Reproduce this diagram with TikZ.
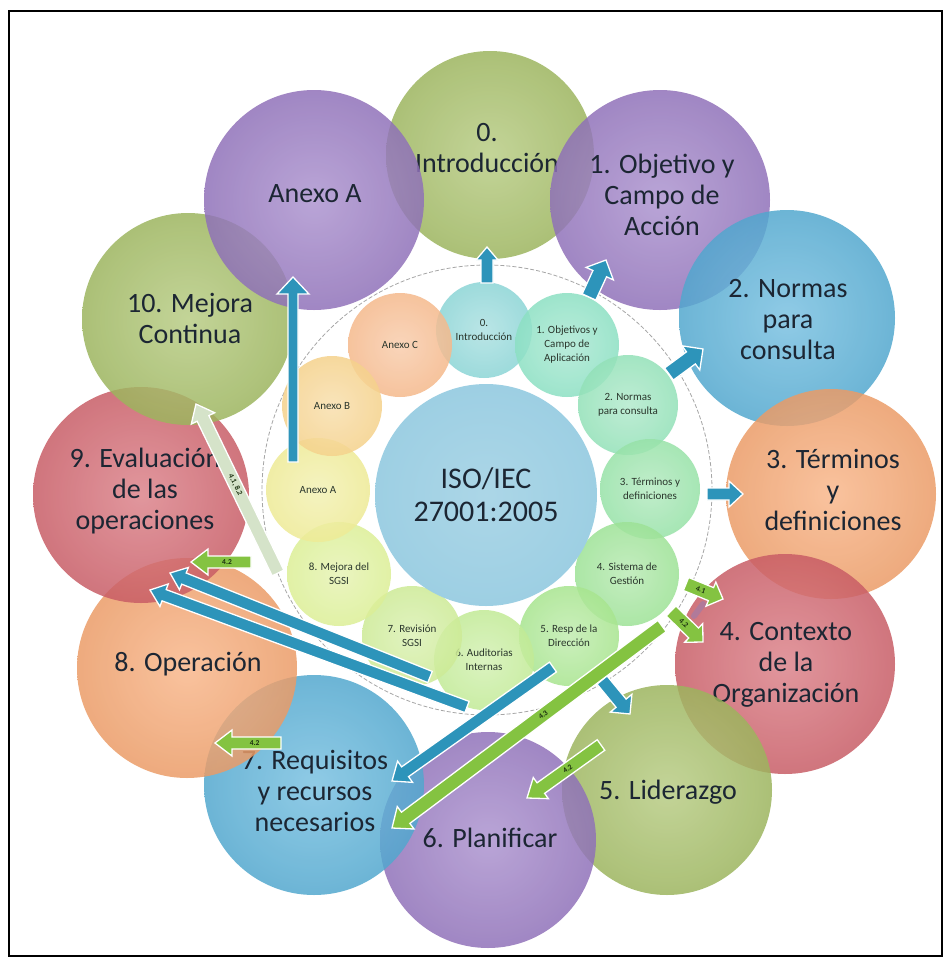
\documentclass[tikz,border=0pt]{standalone}
\usepackage{fontspec}
\setmainfont{Carlito}
\usetikzlibrary{calc}

% palette
\definecolor{olivec}{HTML}{A4BE62}
\definecolor{purplec}{HTML}{9676C2}
\definecolor{bluec}{HTML}{55B0D9}
\definecolor{orangec}{HTML}{F7A36B}
\definecolor{redc}{HTML}{D2606A}
\definecolor{corec}{HTML}{9DCFE3}
\definecolor{in0}{HTML}{8CD5D6}
\definecolor{in1}{HTML}{8CE0C3}
\definecolor{in2}{HTML}{93E1B8}
\definecolor{in3}{HTML}{97E2A8}
\definecolor{in4}{HTML}{9DE296}
\definecolor{in5}{HTML}{A8E58F}
\definecolor{in6}{HTML}{C2EB96}
\definecolor{in7}{HTML}{CDEB96}
\definecolor{in8}{HTML}{DCEF96}
\definecolor{inA}{HTML}{EEEB96}
\definecolor{inB}{HTML}{F5D28C}
\definecolor{inC}{HTML}{F5B98C}
\definecolor{ink}{HTML}{1C2633}
\definecolor{ink2}{HTML}{2A362C}
\definecolor{arrblue}{HTML}{2D94BA}
\definecolor{arrgreen}{HTML}{84C341}
\definecolor{arrpale}{HTML}{D5E3C9}
\definecolor{tagc}{HTML}{1B3010}
\definecolor{mauve}{HTML}{B07A9A}

% block arrow: [style]{from}{to}{half shaft}{half head}{head length}
\newcommand{\barrow}[6][]{%
  \path[#1] let \p1=($(#3)-(#2)$), \n1={atan2(\y1,\x1)}, \n2={veclen(\x1,\y1)-#6} in
    ($(#2)+({\n1+90}:#4pt)$) -- ($(#2)+(\n1:\n2)+({\n1+90}:#4pt)$)
    -- ($(#2)+(\n1:\n2)+({\n1+90}:#5pt)$) -- (#3)
    -- ($(#2)+(\n1:\n2)+({\n1-90}:#5pt)$) -- ($(#2)+(\n1:\n2)+({\n1-90}:#4pt)$)
    -- ($(#2)+({\n1-90}:#4pt)$) -- cycle;}

\tikzset{
  ring/.style 2 args={circle, inner sep=0pt, minimum size=#2pt, shade,
    inner color=#1!78!white, outer color=#1!95!black, fill opacity=0.84},
  bigtext/.style={font=\fontsize{28}{31}\selectfont, text=ink, align=center, inner sep=0pt},
  petal/.style 2 args={circle, inner sep=0pt, minimum size=#2pt, shade,
    inner color=#1!70!white, outer color=#1, fill opacity=0.85, text opacity=1,
    font=\fontsize{11}{14}\selectfont, text=ink2, align=center},
  hub/.style={circle, inner sep=0pt, minimum size=222pt, shade,
    inner color=corec!85!white, outer color=corec,
    font=\fontsize{30}{33}\selectfont, text=ink, align=center},
  bluearr/.style={fill=arrblue, draw=white, line width=1.3pt, line join=miter},
  greenarr/.style={fill=arrgreen, draw=white, line width=1.3pt, line join=miter},
  palearr/.style={fill=arrpale, draw=white, line width=1.3pt, line join=miter},
  tag/.style={font=\fontsize{7.5}{8}\selectfont\bfseries, text=tagc, inner sep=0pt},
}

\begin{document}
\begin{tikzpicture}[x=1pt, y=-1pt]
\useasboundingbox (0,0) rectangle (951,962);
\fill[white] (0,0) rectangle (951,962);
\draw[black, line width=2pt] (9,11) rectangle (942,956);

% outer ring of clauses
\node[ring={olivec}{208}]  (o0)  at (490,155) {};
\node[bigtext] (t0) at (487,148) {0.\\Introducción};
\node[ring={purplec}{220}] (o1)  at (660,200) {};
\node[bigtext] (t1) at (662,195) {1. Objetivo y\\Campo de\\Acción};
\node[ring={bluec}{216}]   (o2)  at (787,318) {};
\node[bigtext] (t2) at (788,320) {2. Normas\\para\\consulta};
\node[ring={orangec}{210}] (o3)  at (831,494) {};
\node[bigtext] (t3) at (833,490) {3. Términos\\y\\definiciones};
\node[ring={redc}{220}]    (o4)  at (785,664) {};
\node[bigtext] (t4) at (786,665) {4. Contexto\\de la\\Organización};
\node[ring={olivec}{210}]  (o5)  at (667,790) {};
\node[bigtext] (t5) at (668,792) {5. Liderazgo};
\node[ring={purplec}{216}] (o6)  at (488,840) {};
\node[bigtext] (t6) at (490,838) {6. Planificar};
\node[ring={bluec}{220}]   (o7)  at (314,785) {};
\node[bigtext] (t7) at (315,791) {7. Requisitos\\y recursos\\necesarios};
\node[ring={orangec}{220}] (o8)  at (187,668) {};
\node[bigtext] (t8) at (188,664) {8. Operación};
\node[ring={redc}{216}]    (o9)  at (141,495) {};
\node[bigtext] (t9) at (145,491) {9. Evaluación\\de las\\operaciones};
\node[ring={olivec}{212}]  (o10) at (188,319) {};
\node[bigtext] (t10) at (190,318) {10. Mejora\\Continua};
\node[ring={purplec}{220}] (oA)  at (314,200) {};
\node[bigtext] (tA) at (315,194) {Anexo A};

% dashed boundary of the 2005 edition
\coordinate (mid) at (487,490);
\draw[gray!70, dashed, dash pattern=on 4pt off 2pt, line width=0.8pt] (mid) circle (225pt);

% inner ring: ISO/IEC 27001:2005 clauses
\node[petal={in0}{96}]  (i0) at (484,330) {0.\\Introducción};
\node[petal={inC}{104}] (iC) at (400,345) {Anexo C};
\node[petal={in1}{104}] (i1) at (567,345) {1. Objetivos y\\Campo de\\Aplicación};
\node[petal={in2}{100}] (i2) at (628,405) {2. Normas\\para consulta};
\node[petal={in3}{100}] (i3) at (650,489) {3. Términos y\\definiciones};
\node[petal={in4}{104}] (i4) at (627,574) {4. Sistema de\\Gestión};
\node[petal={in5}{100}] (i5) at (569,636) {5. Resp de la\\Dirección};
\node[petal={in6}{100}] (i6) at (484,660) {6. Auditorias\\Internas};
\node[petal={in7}{100}] (i7) at (412,636) {7. Revisión\\SGSI};
\node[petal={in8}{104}] (i8) at (339,574) {8. Mejora del\\SGSI};
\node[petal={inA}{104}] (iA) at (318,490) {Anexo A};
\node[petal={inB}{100}] (iB) at (332,406) {Anexo B};

\node[hub] (core) at (486,495) {ISO/IEC\\27001:2005};

% arrow end points
\coordinate (b0s) at (487,283);  \coordinate (b0e) at (487,247);
\coordinate (b1s) at (589,297);  \coordinate (b1e) at (606,260);
\coordinate (b2s) at (669,374);  \coordinate (b2e) at (703,349);
\coordinate (b3s) at (707,494);  \coordinate (b3e) at (743,494);
\coordinate (b5s) at (602,680);  \coordinate (b5e) at (630,714);
\coordinate (bAs) at (293,462);  \coordinate (bAe) at (293,277);
\coordinate (b9as) at (430,677); \coordinate (b9ae) at (170,573);
\coordinate (b9bs) at (467,707); \coordinate (b9be) at (150,590);
\coordinate (b7s) at (553,667);  \coordinate (b7e) at (392,781);
\coordinate (g7s) at (662,626);  \coordinate (g7e) at (392,828);
\coordinate (g41s) at (686,584); \coordinate (g41e) at (723,599);
\coordinate (g42s) at (671,611); \coordinate (g42e) at (703,642);
\coordinate (g9s) at (251,562);  \coordinate (g9e) at (191,562);
\coordinate (g8s) at (281,743);  \coordinate (g8e) at (215,743);
\coordinate (g6s) at (601,745);  \coordinate (g6e) at (527,798);
\coordinate (p10s) at (278,573); \coordinate (p10e) at (196,404);

% pale arrow towards clause 10
\barrow[palearr]{p10s}{p10e}{6.5}{13}{16}
\node[tag, rotate=-64] at ($(p10s)!0.52!(p10e)$) {4.1, 8.2};

% blue arrows: 2005 clauses to the new structure
\barrow[bluearr]{b0s}{b0e}{6}{11}{13}
\barrow[bluearr]{b1s}{b1e}{7.5}{15}{15}
\barrow[bluearr]{b2s}{b2e}{7.5}{15}{15}
\barrow[bluearr]{b3s}{b3e}{6}{13}{14}
\barrow[bluearr]{b5s}{b5e}{6.5}{14}{14}
\barrow[bluearr]{bAs}{bAe}{5}{16}{17}
\barrow[bluearr]{b9as}{b9ae}{6}{12}{15}
\barrow[bluearr]{b9bs}{b9be}{6}{12}{15}
\barrow[bluearr]{b7s}{b7e}{6}{13}{16}

% green arrows: clause 4 split
\draw[mauve, line width=6pt, line cap=round] (694,616) -- (703,604);
\barrow[greenarr]{g7s}{g7e}{7}{14}{17}
\node[tag, rotate=37] at ($(g7s)!0.44!(g7e)$) {4.3};
\barrow[greenarr]{g41s}{g41e}{7}{13}{13}
\node[tag, rotate=-22] at ($(g41s)!0.4!(g41e)$) {4.1};
\barrow[greenarr]{g42s}{g42e}{7}{13}{13}
\node[tag, rotate=-44] at ($(g42s)!0.4!(g42e)$) {4.2};
\barrow[greenarr]{g9s}{g9e}{6}{13}{17}
\node[tag] at ($(g9s)!0.4!(g9e)$) {4.2};
\barrow[greenarr]{g8s}{g8e}{6}{13}{17}
\node[tag] at ($(g8s)!0.4!(g8e)$) {4.2};
\barrow[greenarr]{g6s}{g6e}{6.5}{13}{17}
\node[tag, rotate=36] at ($(g6s)!0.45!(g6e)$) {4.2};
\end{tikzpicture}
\end{document}
